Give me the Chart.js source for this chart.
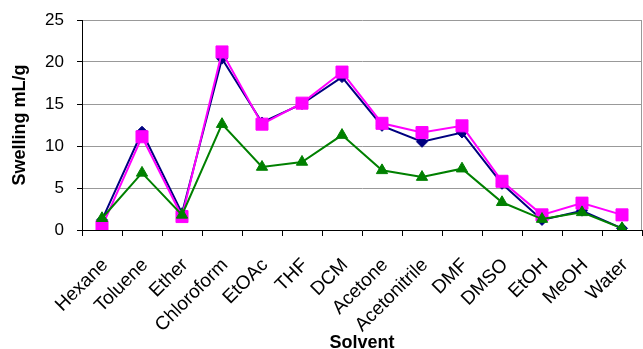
<!DOCTYPE html>
<html>
<head>
<meta charset="utf-8">
<script src="https://cdn.jsdelivr.net/npm/chart.js@4"></script>
<style>
  html, body { margin: 0; padding: 0; background: #fff; }
  #wrap { width: 643px; height: 349px; }
</style>
</head>
<body>
<div id="wrap"><canvas id="c" width="643" height="349"></canvas></div>
<script>
const solvents = ["Hexane", "Toluene", "Ether", "Chloroform", "EtOAc", "THF", "DCM", "Acetone", "Acetonitrile", "DMF", "DMSO", "EtOH", "MeOH", "Water"];
const seriesNavy = [1.2, 11.7, 2.0, 20.4, 12.8, 15.0, 18.2, 12.4, 10.5, 11.6, 5.5, 1.2, 2.3, 0.2];
const seriesMagenta = [0.4, 11.1, 1.6, 21.2, 12.6, 15.1, 18.8, 12.7, 11.6, 12.4, 5.8, 1.8, 3.2, 1.8];
const seriesGreen = [1.4, 6.8, 1.8, 12.6, 7.5, 8.1, 11.3, 7.1, 6.3, 7.3, 3.3, 1.3, 2.1, 0.2];
const yTicks = [0, 5, 10, 15, 20, 25];

const FONT = "'Liberation Sans', Arial, sans-serif";

const frame = {
  id: 'frame',
  beforeDatasetsDraw(chart) {
    const a = chart.chartArea, ctx = chart.ctx;
    ctx.save();
    ctx.strokeStyle = '#999999';
    ctx.lineWidth = 1;
    ctx.beginPath();
    ctx.moveTo(Math.round(a.right) - 0.5, a.top);
    ctx.lineTo(Math.round(a.right) - 0.5, a.bottom);
    ctx.stroke();
    ctx.restore();
  }
};

new Chart(document.getElementById('c'), {
  type: 'line',
  data: {
    labels: solvents,
    datasets: [
      {
        label: 'C', data: seriesGreen, borderColor: '#008000', backgroundColor: '#008000',
        borderWidth: 2, pointStyle: 'triangle', pointRadius: 6.5, pointBorderWidth: 1, tension: 0
      },
      {
        label: 'B', data: seriesMagenta, borderColor: '#FF00FF', backgroundColor: '#FF00FF',
        borderWidth: 2, pointStyle: 'rect', pointRadius: 8.5, pointBorderWidth: 1, tension: 0
      },
      {
        label: 'A', data: seriesNavy, borderColor: '#000080', backgroundColor: '#000080',
        borderWidth: 2, pointStyle: 'rectRot', pointRadius: 5.5, pointBorderWidth: 1, tension: 0
      }
    ]
  },
  options: {
    responsive: false,
    animation: false,
    devicePixelRatio: 1,
    layout: { autoPadding: false, padding: { top: 20, right: 1, left: 9, bottom: 0 } },
    plugins: {
      legend: { display: false },
      tooltip: { enabled: false }
    },
    scales: {
      x: {
        offset: true,
        grid: { offset: true, drawOnChartArea: false, drawTicks: true, tickLength: 6, tickColor: '#000' },
        border: { color: '#000', width: 1 },
        ticks: { color: '#000', font: { family: FONT, size: 19 }, minRotation: 45, maxRotation: 45, padding: 18, labelOffset: 3, autoSkip: false },
        title: { display: true, text: 'Solvent', color: '#000', font: { family: FONT, size: 18, weight: 'bold', lineHeight: 0.7 }, padding: { top: 0, bottom: 0 } },
        afterFit(s) { s.height = 119; s.paddingRight = 0; s.paddingLeft = 0; }
      },
      y: {
        min: 0, max: 25,
        afterBuildTicks(s) { s.ticks = yTicks.map(v => ({ value: v })); },
        grid: { color: '#999999', lineWidth: 1, tickLength: 5, tickColor: '#000' },
        border: { color: '#000', width: 1 },
        ticks: { color: '#000', font: { family: FONT, size: 17 }, padding: 13 },
        title: { display: true, text: 'Swelling mL/g', color: '#000', font: { family: FONT, size: 18, weight: 'bold' }, padding: { top: 0, bottom: 0 } },
        afterFit(s) { s.width = 73; s.paddingTop = 0; s.paddingBottom = 0; }
      }
    }
  },
  plugins: [frame]
});
</script>
</body>
</html>
